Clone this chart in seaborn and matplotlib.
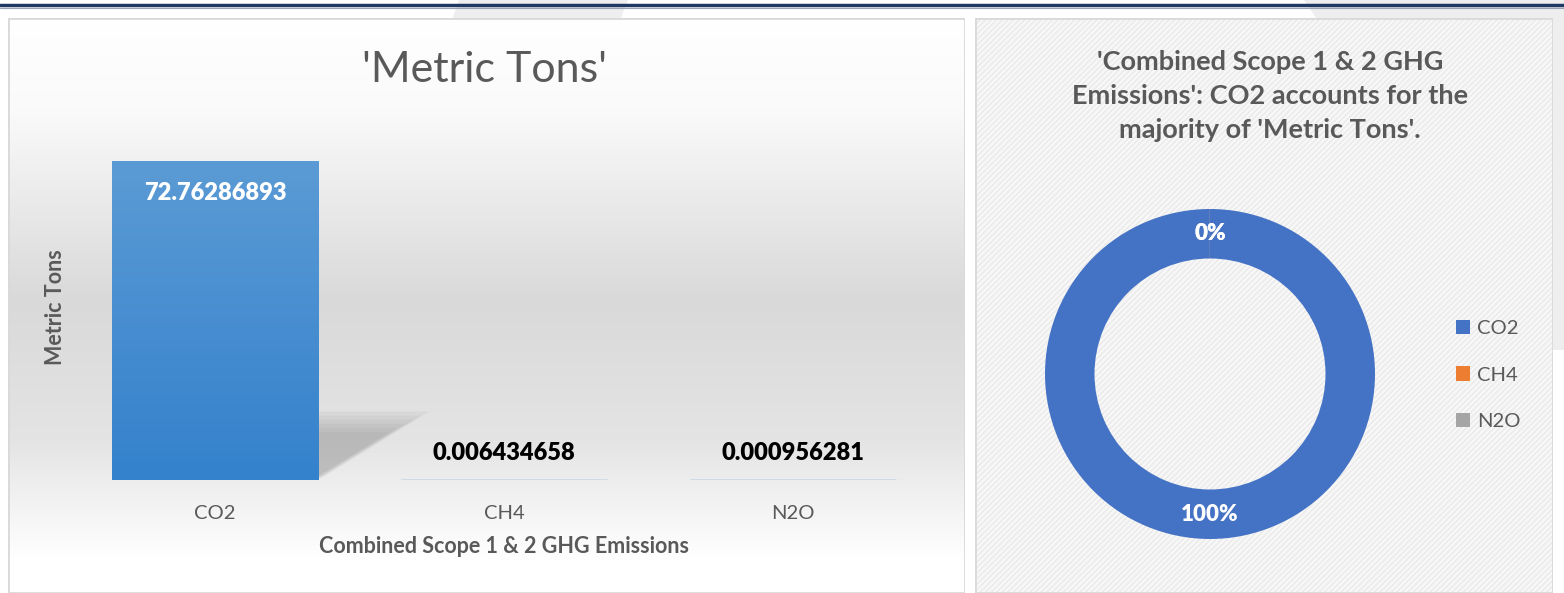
import numpy as np
import pandas as pd
import matplotlib
matplotlib.use("Agg")
import matplotlib.pyplot as plt
from matplotlib.patches import Rectangle, Polygon
from matplotlib.lines import Line2D
import seaborn as sns

# data
gases = ["CO2", "CH4", "N2O"]
metric_tons = [72.76286893, 0.006434658, 0.000956281]
value_labels = ["72.76286893", "0.006434658", "0.000956281"]
pie_colors = ["#4472c4", "#ed7d31", "#a5a5a5"]

bar_title = "'Metric Tons'"
pie_title = "'Combined Scope 1 & 2 GHG\nEmissions': CO2 accounts for the\nmajority of 'Metric Tons'."
x_title = "Combined Scope 1 & 2 GHG Emissions"
y_title = "Metric Tons"

sns.set_theme(style="white")
plt.rcParams["font.family"] = ["Lato", "DejaVu Sans"]
plt.rcParams["hatch.linewidth"] = 1.2

W, H = 1564, 593
fig = plt.figure(figsize=(W / 100, H / 100), dpi=100)
fig.patch.set_facecolor("white")


def fx(px):
    return px / W


def fy(py):
    return 1 - py / H


# faint page stripes and top rule
fig.patches.append(Polygon([(fx(459), fy(0)), (fx(628), fy(0)), (fx(620), fy(20)), (fx(452), fy(20))],
                           transform=fig.transFigure, facecolor="#eeeeee", edgecolor="none", zorder=-5))
fig.patches.append(Polygon([(fx(1304), fy(0)), (fx(1564), fy(0)), (fx(1564), fy(350)), (fx(1540), fy(350))],
                           transform=fig.transFigure, facecolor="#eeeeee", edgecolor="none", zorder=-5))
fig.lines.append(Line2D([0, 1], [fy(5), fy(5)], transform=fig.transFigure, color="#1f3864", lw=2.5))
fig.lines.append(Line2D([0, 1], [fy(7.5), fy(7.5)], transform=fig.transFigure, color="#9aa3b5", lw=0.8))

# left panel with vertical gradient
bg = fig.add_axes([fx(8), 0, fx(965 - 8), fy(18)])
rows = np.arange(18, 594)
shade = np.interp(rows, [18, 110, 300, 440, 560, 593], [255, 250, 217, 228, 255, 255]) / 255
grad = np.repeat(shade[:, None], 3, axis=1)[:, None, :]
bg.imshow(grad, aspect="auto", extent=(0, 1, 0, 1), zorder=0)
bg.add_patch(Rectangle((0, 0), 1, 1, transform=bg.transAxes, fill=False, edgecolor="#d9d9d9", lw=2))
bg.set_axis_off()

# right panel, hatched
bg2 = fig.add_axes([fx(975), 0, fx(1553 - 975), fy(18)])
bg2.add_patch(Rectangle((0, 0), 1, 1, transform=bg2.transAxes, facecolor="#f8f8f8",
                        edgecolor="#ebebeb", hatch="//////", lw=0))
bg2.add_patch(Rectangle((0, 0), 1, 1, transform=bg2.transAxes, fill=False, edgecolor="#d9d9d9", lw=2))
bg2.set_xlim(0, 1)
bg2.set_ylim(0, 1)
bg2.set_axis_off()

# bar chart
ax = fig.add_axes([fx(70.5), fy(480), fx(867), 319 / 72.76286893 * 80 / H])
ax.set_facecolor("none")
df = pd.DataFrame({"gas": gases, "tons": metric_tons})
sns.barplot(data=df, x="gas", y="tons", color="#5b9bd5", width=0.713, ax=ax,
            edgecolor="#5b9bd5", linewidth=1, saturation=1, zorder=3)
ax.set_ylim(0, 80)
ax.set_xlim(-0.5, len(gases) - 0.5)

co2 = ax.patches[0]
x0, bw, h = co2.get_x(), co2.get_width(), co2.get_height()
# soft shadow behind the tall bar, built from stacked translucent layers
for k in range(6):
    s = 1 - k * 0.06
    top = h * 0.215 * s
    ax.add_patch(Polygon([(x0 + bw * 0.9, top), (x0 + bw * (0.9 + 0.64 * s), top),
                          (x0 + bw * (0.9 + 0.12 * s), 0.5), (x0 + bw * 0.9, 0.5)],
                         facecolor="#7a7a7a", alpha=0.08, edgecolor="none", zorder=2))
co2.set_facecolor("none")
co2.set_edgecolor("none")
fill = np.linspace(0, 1, 200)[:, None]
cm = matplotlib.colors.LinearSegmentedColormap.from_list("barfill", ["#5b9bd5", "#3481cc"])
img = ax.imshow(fill, cmap=cm, aspect="auto", extent=(x0, x0 + bw, 0, h), origin="upper", zorder=3)
img.set_clip_path(co2)
ax.set_xlim(-0.5, len(gases) - 0.5)
ax.set_ylim(0, 80)

for i, (v, lab) in enumerate(zip(metric_tons, value_labels)):
    if i == 0:
        ax.annotate(lab, (i, v), xytext=(0, -32), textcoords="offset pixels", ha="center", va="center",
                    color="white", fontsize=17, fontweight="heavy", zorder=5)
    else:
        ax.annotate(lab, (i, v), xytext=(0, 27), textcoords="offset pixels", ha="center", va="center",
                    color="black", fontsize=17, fontweight="heavy", zorder=5)

sns.despine(ax=ax, left=True, bottom=True)
ax.set_yticks([])
ax.tick_params(axis="x", length=0, pad=18, labelsize=14.5, labelcolor="#595959")
ax.set_xlabel(x_title, fontsize=15.5, fontweight="bold", color="#595959", labelpad=10)
ax.set_ylabel("")
fig.text(fx(55), fy(307), y_title, rotation=90, ha="center", va="center",
         fontsize=15.5, fontweight="bold", color="#595959")
fig.text(fx(485), fy(70), bar_title, ha="center", va="center", fontsize=31, color="#595959")

# doughnut
R = 165
cx, cy = 1210, 374
pax = fig.add_axes([fx(cx - R), fy(cy + R), fx(2 * R), 2 * R / H])
wedges, _, autotexts = pax.pie(metric_tons, colors=pie_colors, startangle=90, counterclock=False,
                               radius=1, autopct=lambda p: f"{p:.0f}%", pctdistance=0.85,
                               wedgeprops=dict(width=0.3, edgecolor="none"))
for t in autotexts:
    t.set_color("white")
    t.set_fontsize(16)
    t.set_fontweight("heavy")
pax.set_xlim(-1, 1)
pax.set_ylim(-1, 1)
pax.set_facecolor("none")

fig.text(fx(1270), fy(96), pie_title, ha="center", va="center", fontsize=19.5, fontweight="bold",
         color="#595959", linespacing=1.5)

leg = fig.legend(wedges, gases, loc="center left", bbox_to_anchor=(fx(1438), fy(375)), frameon=False,
                 handlelength=0.7, handleheight=0.7, handletextpad=0.35, labelspacing=1.45,
                 fontsize=14.5, labelcolor="#595959")

fig.savefig("out.png", dpi=100)
